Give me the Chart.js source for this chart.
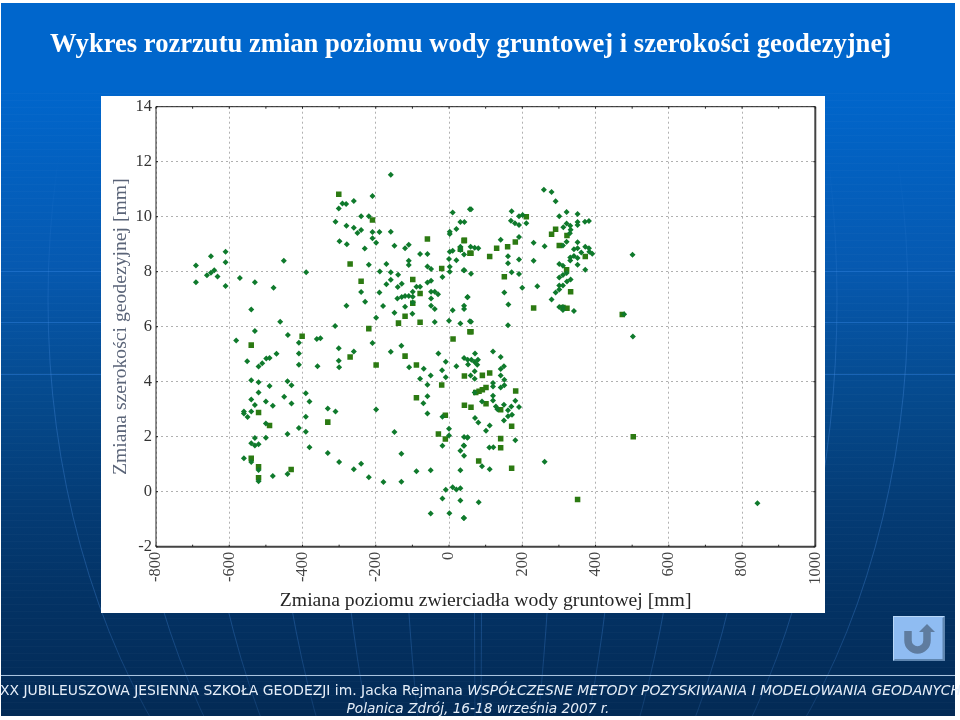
<!DOCTYPE html>
<html>
<head>
<meta charset="utf-8">
<script src="https://cdn.jsdelivr.net/npm/chart.js@4"></script>
<style>
  html, body { margin: 0; padding: 0; background: #fff; }
  #page { position: relative; width: 960px; height: 720px; overflow: hidden; }
  #bg { position: absolute; left: 1px; top: 3px; }
  #title { position: absolute; left: 50px; top: 28px; color: #fff; font: bold 26.6px "Liberation Serif"; white-space: nowrap; }
  #panel { position: absolute; left: 101px; top: 96px; width: 724px; height: 517px; background: #fff; }
  #foot1, #foot2 { position: absolute; width: 956px; left: 0; text-align: center; color: #e6eef8; font: 13.9px "DejaVu Sans"; white-space: nowrap; }
  #foot1 { top: 682px; }
  #foot2 { top: 700px; font-size: 13.7px; font-style: italic; }
  #back { position: absolute; left: 893px; top: 616px; }
</style>
</head>
<body>
<div id="page">
  <canvas id="bg" width="954" height="713"></canvas>
  <div id="title">Wykres rozrzutu zmian poziomu wody gruntowej i szerokości geodezyjnej</div>
  <div id="panel"><canvas id="scatterChart" width="724" height="517"></canvas></div>
  <svg id="back" width="52" height="45" viewBox="0 0 52 45">
    <rect x="0" y="0" width="52" height="45" fill="#8fbcf2"/>
    <path d="M0 0H52L51 1H1V44L0 45Z" fill="#b9d8f8"/>
    <path d="M52 0V45H0L2 43H49.500V2Z" fill="#5f86b0"/>
    <path d="M15 15V24.500a9.500 9.500 0 0 0 19 0V16" fill="none" stroke="#5f7c9f" stroke-width="7.500"/>
    <path d="M26 16L34 8L42 16Z" fill="#5f7c9f"/>
  </svg>
  <div id="foot1">XX JUBILEUSZOWA JESIENNA SZKOŁA GEODEZJI im. Jacka Rejmana <i>WSPÓŁCZESNE METODY POZYSKIWANIA I MODELOWANIA GEODANYCH</i></div>
  <div id="foot2">Polanica Zdrój, 16-18 września 2007 r.</div>
</div>
<script>
const xTicks = [-800, -600, -400, -200, 0, 200, 400, 600, 800, 1000];
const yTicks = [-2, 0, 2, 4, 6, 8, 10, 12, 14];
const xMinorTicks = [-700, -500, -300, -100, 100, 300, 500, 700, 900];

// [zmiana poziomu, zmiana szerokosci]
const diamondPoints = [
  [-691,8.23],[-691,7.62],[-661,7.87],[-650,7.96],[-641,8.05],[-632,7.83],[-650,8.56],[-610,8.73],[-610,8.34],[-610,7.48],
  [-571,7.77],[-530,7.62],[-451,8.4],[-479,7.42],[-390,7.98],[-540,6.63],[-461,6.18],[-530,5.84],[-581,5.5],[-440,5.7],
  [-410,5.42],[-361,5.55],[-351,5.58],[-471,5.02],[-410,5.03],[-301,5.22],[-260,5.1],[-311,6.03],[-280,6.76],[-229,6.91],
  [-240,7.26],[-190,7.24],[-199,6.33],[-209,5.41],[-159,5.09],[-130,5.31],[-180,6.75],[-149,6.51],[-159,11.53],[-209,10.75],
  [-301,10.3],[-291,10.48],[-281,10.46],[-260,10.57],[-310,9.82],[-280,9.67],[-260,9.6],[-250,9.41],[-240,9.52],[-240,10.02],
  [-219,10.02],[-209,9.44],[-190,9.44],[-209,9.22],[-199,9.05],[-159,9.45],[-149,8.94],[-299,9.11],[-279,9.0],[-230,8.84],
  [-219,8.25],[-189,8.01],[-171,8.28],[-159,7.98],[-159,7.71],[-171,7.54],[-139,7.89],[-140,7.44],[-129,7.56],[-120,8.85],
  [-110,8.98],[-110,8.4],[-110,8.24],[-79,8.64],[-59,8.64],[-59,8.19],[-49,8.1],[-59,7.61],[-49,7.67],[-18,7.81],
  [2,8.18],[2,8.0],[0,8.46],[20,8.42],[2,9.45],[2,9.37],[20,9.55],[31,9.81],[42,9.81],[10,10.15],
  [57,10.27],[2,8.73],[10,8.76],[31,8.91],[31,8.79],[41,8.63],[42,8.05],[51,7.08],[-141,7.03],[-129,7.08],
  [-120,7.12],[-110,7.12],[-99,7.27],[-99,7.09],[-99,6.88],[-120,6.73],[-100,6.47],[-89,7.45],[-79,7.45],[-49,7.27],
  [-39,7.27],[-30,7.18],[-49,7.03],[-49,6.76],[-39,6.64],[-39,6.17],[0,6.22],[10,6.6],[31,6.12],[41,6.76],
  [41,6.64],[57,6.2],[-29,5.03],
  [-551,4.74],[-520,4.55],[-510,4.67],[-499,4.84],[-490,4.86],[-410,4.62],[-359,4.56],[-301,4.76],[-300,4.53],[-109,4.53],
  [-69,4.47],[-50,4.23],[-79,4.11],[-59,3.89],[-9,4.73],[-19,4.42],[-9,4.16],[20,4.56],[41,4.86],[52,4.63],
  [-540,4.05],[-520,3.98],[-520,3.61],[-490,3.84],[-441,4.02],[-430,3.87],[-391,3.58],[-381,3.28],[-450,3.45],[-430,3.21],
  [-481,3.13],[-500,3.28],[-540,3.35],[-530,3.15],[-560,2.92],[-560,2.84],[-540,2.92],[-550,2.72],[-391,2.73],[-331,3.03],
  [-310,2.92],[-199,2.99],[-500,2.48],[-410,2.32],[-391,2.18],[-441,2.1],[-530,1.95],[-500,1.96],[-540,1.76],[-530,1.68],
  [-520,1.73],[-381,1.62],[-331,1.41],[-560,1.22],[-540,1.08],[-520,0.79],[-520,0.38],[-481,0.57],[-441,0.64],[-300,1.08],
  [-260,0.82],[-240,1.02],[-219,0.53],[-179,0.35],[-130,0.36],[-130,1.38],[-149,2.17],[-89,0.74],[-50,0.78],[-70,3.22],
  [-59,3.47],[-59,2.84],[-18,2.73],[0,2.29],[0,2.04],[-18,1.67],[41,1.99],[50,1.96],[41,1.67],[31,1.49],
  [41,1.31],[31,0.78],[-9,0.07],[10,0.16],[20,0.08],[31,0.13],[-18,-0.25],[31,-0.32],[-50,-0.79],[1,-0.78],[41,-0.96],
  [60,10.27],[171,10.2],[191,10.02],[201,10.06],[169,9.85],[180,9.76],[191,9.7],[211,9.76],[141,9.16],[191,9.26],
  [231,9.05],[261,8.93],[59,8.91],[70,8.87],[80,8.85],[161,8.56],[191,8.44],[161,8.31],[231,8.4],[40,8.05],
  [60,7.93],[171,7.98],[191,7.92],[200,7.42],[241,7.47],[151,7.24],[50,7.07],[162,6.81],[60,6.18],[161,6.05],
  [71,5.03],[120,5.1],[259,10.98],[280,10.9],[291,10.56],[321,10.17],[351,10.1],[301,10.02],[321,9.75],[312,9.62],
  [351,9.81],[351,9.7],[371,9.82],[382,9.84],[331,9.67],[332,9.53],[330,9.4],[321,9.09],[311,8.95],[351,9.07],
  [341,8.82],[351,8.85],[372,8.91],[382,8.85],[383,8.73],[391,8.65],[361,8.7],[331,8.52],[341,8.57],[351,8.5],
  [331,8.41],[351,8.25],[301,8.28],[311,8.22],[372,8.07],[321,7.95],[311,7.88],[301,7.79],[322,7.64],[332,7.72],
  [301,7.5],[311,7.5],[301,7.35],[291,7.24],[280,6.99],[301,6.72],[311,6.72],[311,6.61],[341,6.57],[501,8.62],
  [502,5.64],[478,6.45],
  [51,4.8],[61,4.8],[70,4.72],[79,4.8],[77,4.62],[141,4.9],[141,4.46],[150,4.56],[141,4.23],[151,4.07],
  [59,4.23],[70,4.38],[70,4.11],[120,3.95],[120,3.83],[141,3.79],[151,3.87],[70,3.61],[120,3.49],[120,3.32],
  [90,3.28],[150,3.16],[128,3.1],[132,3.0],[170,3.1],[181,3.31],[191,3.08],[161,2.96],[172,2.8],[161,2.74],
  [150,2.59],[71,2.68],[80,2.52],[111,2.41],[101,2.22],[51,1.98],[181,1.87],[110,1.61],[121,1.62],[40,1.68],
  [90,0.93],[111,0.82],[261,1.09],[81,-0.38],[40,-0.96],[842,-0.42]
];
const squarePoints = [
  [-301,10.82],[-270,8.28],[-209,9.88],[-59,9.19],[-20,8.12],[42,9.14],[31,8.82],[-240,7.65],[-99,7.72],[-79,7.21],
  [-99,6.85],[-120,6.38],[-138,6.13],[-79,6.16],[-219,5.93],[-401,5.65],[-540,5.33],[11,5.55],[57,5.82],[57,8.67],
  [-540,1.22],[-520,0.91],[-520,0.51],[-431,0.81],[-520,2.88],[-490,2.41],[-331,2.53],[-270,4.9],[-199,4.61],[-120,4.93],
  [-89,4.61],[-20,3.88],[42,4.21],[-89,3.42],[42,3.14],[-10,2.78],[-29,2.1],[-10,1.92],
  [211,10.0],[291,9.54],[280,9.36],[322,9.32],[41,9.13],[60,8.67],[111,8.55],[130,8.85],[160,8.91],[181,9.08],
  [301,8.95],[372,8.55],[151,7.82],[321,8.07],[332,7.27],[231,6.68],[322,6.67],[311,6.7],[473,6.44],[60,5.82],
  [91,4.23],[111,4.32],[101,3.79],[91,3.71],[82,3.65],[73,3.61],[182,3.66],[101,3.2],[60,3.07],[141,2.98],
  [171,2.38],[141,1.93],[141,1.6],[81,1.12],[171,0.85],[351,-0.28],[503,2.0]
];

// slide background: gradient, scan lines and the globe meridians of the template
function drawBackground() {
  const c = document.getElementById('bg').getContext('2d');
  const grad = c.createLinearGradient(0, 0, 0, 713);
  grad.addColorStop(0, '#0066cc');
  grad.addColorStop(0.12, '#0066cc');
  grad.addColorStop(0.37, '#0659b0');
  grad.addColorStop(0.56, '#05498c');
  grad.addColorStop(0.70, '#043c76');
  grad.addColorStop(0.84, '#033264');
  grad.addColorStop(1, '#032a55');
  c.fillStyle = grad;
  c.fillRect(0, 0, 954, 713);

  c.fillStyle = 'rgba(255,255,255,0.025)';
  for (let y = 90; y < 713; y += 7) c.fillRect(0, y, 954, 1);
  c.fillStyle = 'rgba(50,130,225,0.45)';
  [268, 319, 371].forEach(y => c.fillRect(0, y, 954, 1));

  const stroke = c.createLinearGradient(0, 150, 0, 713);
  stroke.addColorStop(0, 'rgba(70,140,225,0)');
  stroke.addColorStop(0.4, 'rgba(70,140,225,0.35)');
  stroke.addColorStop(0.8, 'rgba(70,140,225,0.32)');
  stroke.addColorStop(1, 'rgba(70,140,225,0.18)');
  c.strokeStyle = stroke;
  c.lineWidth = 1;
  [430, 359, 285, 212, 145, 79, 4].forEach(a => {
    c.beginPath();
    c.ellipse(477, 297, a, 645, 0, 0, Math.PI * 2);
    c.stroke();
  });

  c.fillStyle = '#a9c4e0';
  c.fillRect(0, 672, 954, 1);
}

const frame = {
  id: 'frame',
  afterDraw(chart) {
    const { ctx, chartArea: a, scales } = chart;
    ctx.save();
    ctx.strokeStyle = '#222';
    ctx.lineWidth = 1;
    ctx.beginPath();
    ctx.moveTo(a.left, a.bottom);
    ctx.lineTo(a.left, a.top);
    ctx.lineTo(a.right, a.top);
    ctx.stroke();
    ctx.lineWidth = 2;
    ctx.strokeStyle = '#444';
    ctx.beginPath();
    ctx.moveTo(a.right, a.top);
    ctx.lineTo(a.right, a.bottom);
    ctx.moveTo(a.left, a.bottom);
    ctx.lineTo(a.right, a.bottom);
    ctx.stroke();
    ctx.lineWidth = 1;
    ctx.strokeStyle = '#222';
    ctx.beginPath();
    xTicks.concat(xMinorTicks).forEach(v => {
      const px = scales.x.getPixelForValue(v);
      ctx.moveTo(px, a.top);
      ctx.lineTo(px, a.top + 2);
      ctx.moveTo(px, a.bottom);
      ctx.lineTo(px, a.bottom - 2);
    });
    yTicks.forEach(v => {
      const py = scales.y.getPixelForValue(v);
      ctx.moveTo(a.left, py);
      ctx.lineTo(a.left + 2, py);
      ctx.moveTo(a.right, py);
      ctx.lineTo(a.right - 2, py);
    });
    ctx.stroke();
    ctx.restore();
  }
};

function renderChart() {
  const ctx = document.getElementById('scatterChart').getContext('2d');
  new Chart(ctx, {
    type: 'scatter',
    data: {
      datasets: [
        {
          label: 'romby',
          data: diamondPoints.map(p => ({ x: p[0], y: p[1] })),
          pointStyle: 'rectRot',
          radius: 3,
          backgroundColor: '#0f7a2c',
          borderWidth: 0
        },
        {
          label: 'kwadraty',
          data: squarePoints.map(p => ({ x: p[0], y: p[1] })),
          pointStyle: 'rect',
          radius: 3.9,
          backgroundColor: '#2c7a12',
          borderWidth: 0
        }
      ]
    },
    options: {
      responsive: false,
      animation: false,
      layout: { padding: { left: 0, top: 10.7, right: 9.7, bottom: 0 } },
      plugins: {
        legend: { display: false },
        tooltip: { enabled: false }
      },
      scales: {
        x: {
          type: 'linear',
          min: -800,
          max: 1000,
          afterBuildTicks: s => { s.ticks = xTicks.map(v => ({ value: v })); },
          afterFit: s => { s.height = 66.3; s.paddingLeft = 0; s.paddingRight = 0; },
          ticks: {
            color: '#444',
            font: { family: 'Liberation Serif', size: 16.500 },
            minRotation: 90,
            maxRotation: 90,
            padding: 5,
            callback: v => String(v)
          },
          grid: {
            color: '#b0b0b0',
            drawTicks: false
          },
          border: { display: false, dash: [2, 3] },
          title: {
            display: true,
            text: 'Zmiana poziomu zwierciadła wody gruntowej [mm]',
            color: '#262626',
            font: { family: 'Liberation Serif', size: 19.700 },
            padding: { top: 0, bottom: 0 }
          }
        },
        y: {
          type: 'linear',
          min: -2,
          max: 14,
          afterBuildTicks: s => { s.ticks = yTicks.map(v => ({ value: v })); },
          afterFit: s => { s.width = 55; s.paddingTop = 0; s.paddingBottom = 0; },
          ticks: {
            color: '#333',
            font: { family: 'Liberation Serif', size: 16.500 },
            padding: 4
          },
          grid: {
            color: '#b0b0b0',
            drawTicks: false
          },
          border: { display: false, dash: [2, 3] },
          title: {
            display: true,
            text: 'Zmiana szerokości geodezyjnej [mm]',
            color: '#5a6478',
            font: { family: 'Liberation Serif', size: 19.700 },
            padding: { top: 8, bottom: 0 }
          }
        }
      }
    },
    plugins: [frame]
  });
}

drawBackground();
renderChart();
</script>
</body>
</html>
